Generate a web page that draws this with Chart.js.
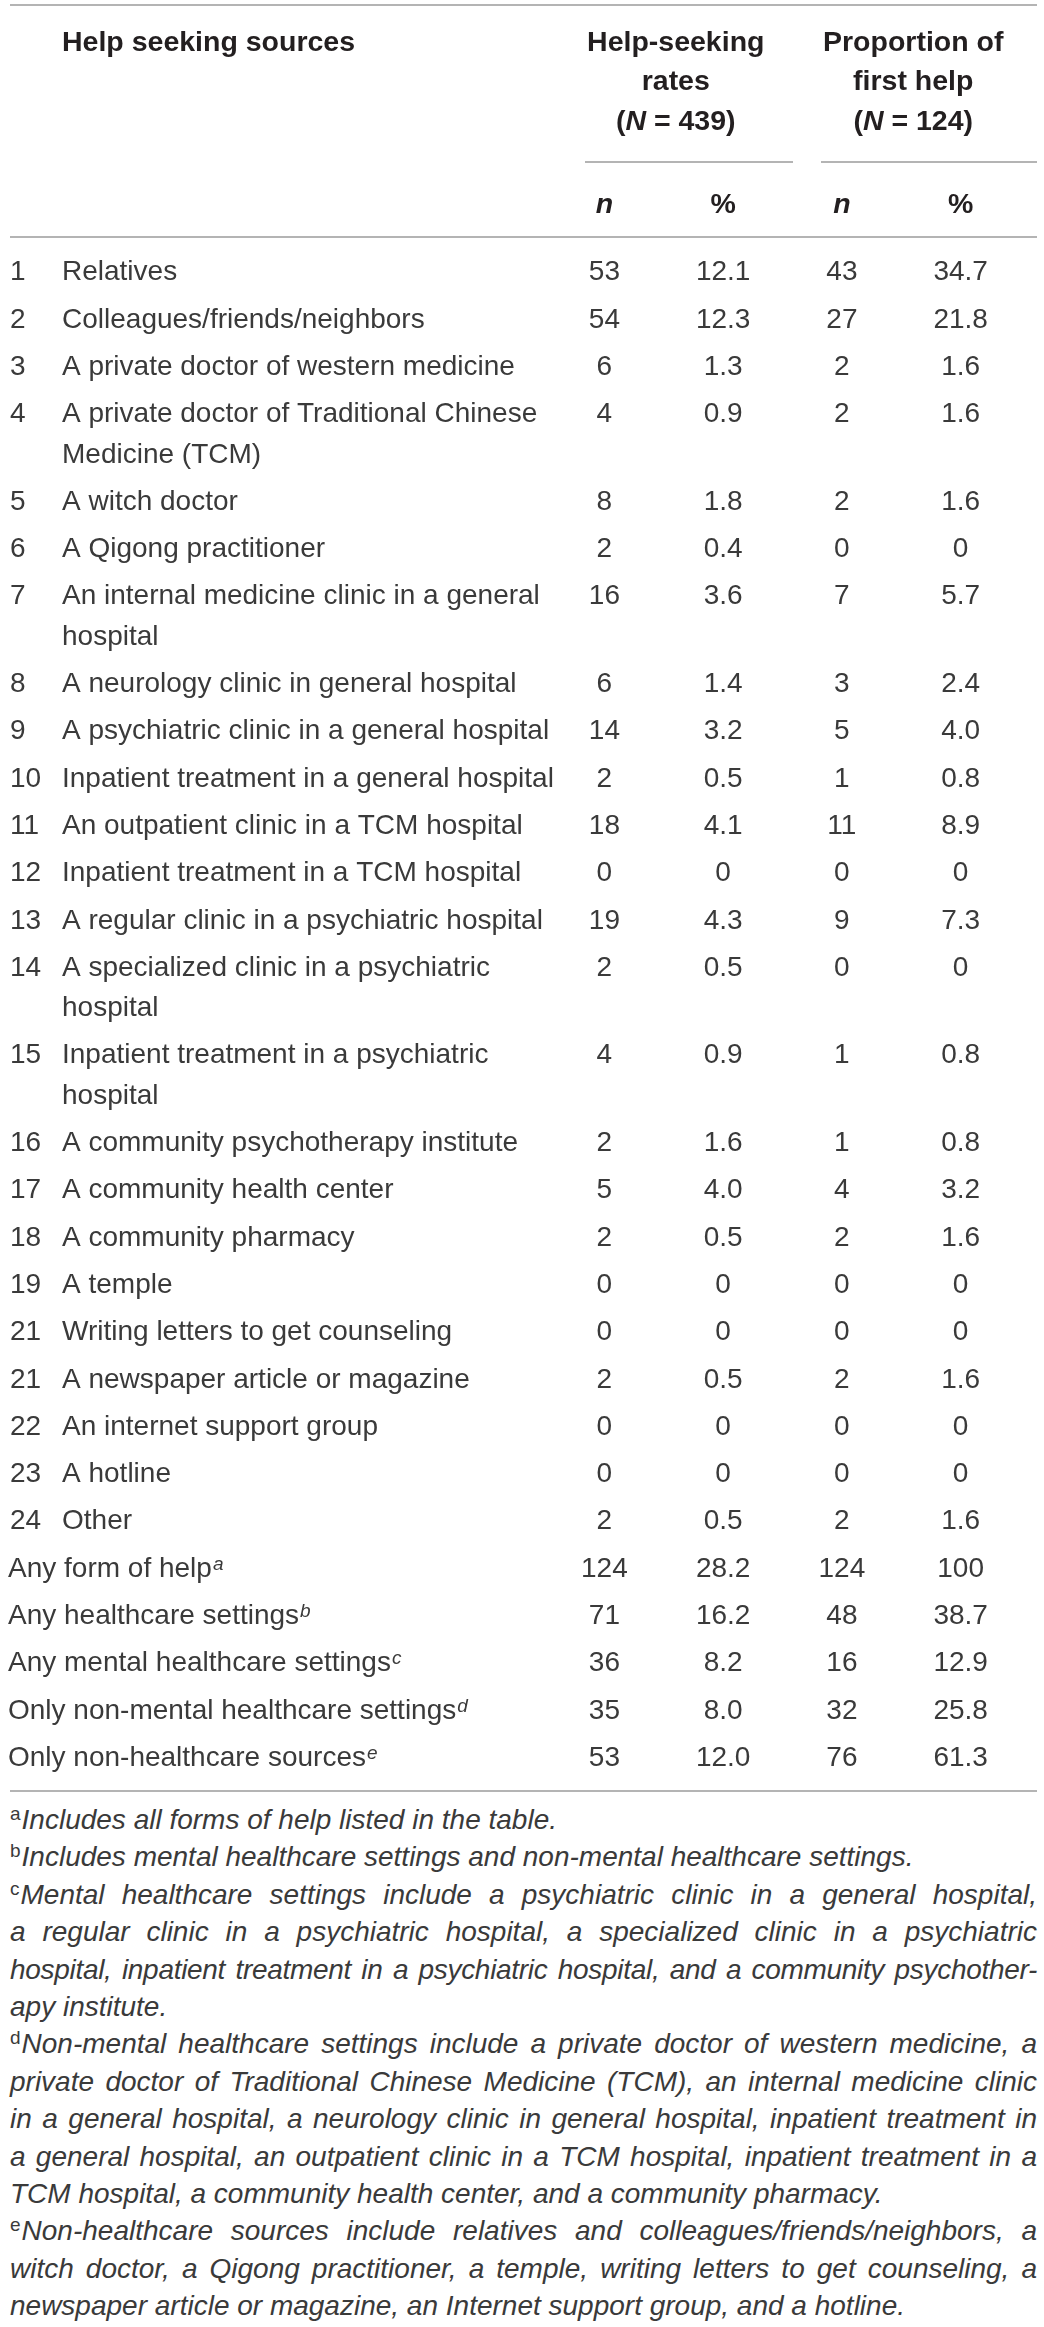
<!DOCTYPE html>
<html lang="en">
<head>
<meta charset="utf-8">
<title>Help seeking sources</title>
<script src="https://cdn.jsdelivr.net/npm/chart.js@4.4.1/dist/chart.umd.min.js"></script>
<style>
  html, body { margin: 0; padding: 0; background: #fff; overflow: hidden; }
  body { width: 1044px; }
  #tableBox { position: relative; width: 1044px; height: 1800px; }
  .notes {
    margin: 1px 0 0 10px;
    width: 1027px;
    font-family: "Liberation Sans", Arial, sans-serif;
    font-style: italic;
    font-size: 28px;
    line-height: 37.4px;
    color: #3a3a3a;
  }
  .notes div { text-align: justify; text-align-last: justify; }
  .notes div.end { text-align: left; text-align-last: left; }
  .notes div.tight { letter-spacing: -0.3px; }
  .notes sup { font-style: normal; font-size: 19px; vertical-align: 9px; line-height: 0; margin-right: 1px; }
</style>
</head>
<body>
<div id="tableBox"><canvas id="helpTable"></canvas></div>
<div class="notes">
  <div class="end"><sup>a</sup>Includes all forms of help listed in the table.</div>
  <div class="end"><sup>b</sup>Includes mental healthcare settings and non-mental healthcare settings.</div>
  <div><sup>c</sup>Mental healthcare settings include a psychiatric clinic in a general hospital,</div>
  <div>a regular clinic in a psychiatric hospital, a specialized clinic in a psychiatric</div>
  <div class="tight">hospital, inpatient treatment in a psychiatric hospital, and a community psychother-</div>
  <div class="end">apy institute.</div>
  <div><sup>d</sup>Non-mental healthcare settings include a private doctor of western medicine, a</div>
  <div>private doctor of Traditional Chinese Medicine (TCM), an internal medicine clinic</div>
  <div>in a general hospital, a neurology clinic in general hospital, inpatient treatment in</div>
  <div>a general hospital, an outpatient clinic in a TCM hospital, inpatient treatment in a</div>
  <div class="end">TCM hospital, a community health center, and a community pharmacy.</div>
  <div><sup>e</sup>Non-healthcare sources include relatives and colleagues/friends/neighbors, a</div>
  <div>witch doctor, a Qigong practitioner, a temple, writing letters to get counseling, a</div>
  <div class="end">newspaper article or magazine, an Internet support group, and a hotline.</div>
</div>
<script>
// Table data
const rowNumbers = [
    "1", "2", "3", "4", "5", "6", "7", "8", "9", "10", "11", "12", "13", "14",
    "15", "16", "17", "18", "19", "21", "21", "22", "23", "24",
    "", "", "", "", "",
];

const sourceLabels = [
    ["Relatives"],
    ["Colleagues/friends/neighbors"],
    ["A private doctor of western medicine"],
    ["A private doctor of Traditional Chinese", "Medicine (TCM)"],
    ["A witch doctor"],
    ["A Qigong practitioner"],
    ["An internal medicine clinic in a general", "hospital"],
    ["A neurology clinic in general hospital"],
    ["A psychiatric clinic in a general hospital"],
    ["Inpatient treatment in a general hospital"],
    ["An outpatient clinic in a TCM hospital"],
    ["Inpatient treatment in a TCM hospital"],
    ["A regular clinic in a psychiatric hospital"],
    ["A specialized clinic in a psychiatric", "hospital"],
    ["Inpatient treatment in a psychiatric", "hospital"],
    ["A community psychotherapy institute"],
    ["A community health center"],
    ["A community pharmacy"],
    ["A temple"],
    ["Writing letters to get counseling"],
    ["A newspaper article or magazine"],
    ["An internet support group"],
    ["A hotline"],
    ["Other"],
    ["Any form of help"],
    ["Any healthcare settings"],
    ["Any mental healthcare settings"],
    ["Only non-mental healthcare settings"],
    ["Only non-healthcare sources"],
];

const noteMarks = [
    "", "", "", "", "", "", "", "", "", "", "", "", "", "", "", "", "", "", "", "", "", "", "", "",
    "a", "b", "c", "d", "e",
];

const helpN = [53, 54, 6, 4, 8, 2, 16, 6, 14, 2, 18, 0, 19, 2, 4, 2, 5, 2, 0, 0, 2, 0, 0, 2, 124, 71, 36, 35, 53];
const helpPct = [12.1, 12.3, 1.3, 0.9, 1.8, 0.4, 3.6, 1.4, 3.2, 0.5, 4.1, 0, 4.3, 0.5, 0.9, 1.6, 4.0, 0.5, 0, 0, 0.5, 0, 0, 0.5, 28.2, 16.2, 8.2, 8.0, 12.0];
const firstN = [43, 27, 2, 2, 2, 0, 7, 3, 5, 1, 11, 0, 9, 0, 1, 1, 4, 2, 0, 0, 2, 0, 0, 2, 124, 48, 16, 32, 76];
const firstPct = [34.7, 21.8, 1.6, 1.6, 1.6, 0, 5.7, 2.4, 4.0, 0.8, 8.9, 0, 7.3, 0, 0.8, 0.8, 3.2, 1.6, 0, 0, 1.6, 0, 0, 1.6, 100, 38.7, 12.9, 25.8, 61.3];

const columnKeys = ["*n*", "%", "*n*", "%"];
const groupTitles = [
    ["Help-seeking", "rates", "(*N* = 439)"],
    ["Proportion of", "first help", "(*N* = 124)"],
];
const firstHeader = "Help seeking sources";

// Layout
const FONT = '"Liberation Sans", Arial, sans-serif';
const BODY_SIZE = 28;
const HEAD_SIZE = 28.5;
const textColor = "#3a3a3a";
const headColor = "#231f20";
const ruleColor = "#9b9b9b";
const LINE_STEP = 0.85; // extra height of a wrapped line, in row units
const layout = {
    ruleLeft: 10,
    ruleRight: 1037,
    topRule: 5,
    spanRule: 162,
    headRule: 237,
    bodyRuleGap: 9,
    spans: [[585, 793], [821, 1037]],
    titleY: [43, 82, 122],
    keyY: 205,
    numX: 10,
    labelX: 62,
    totalX: 8,
    groupShift: 12,
};

// Row positions on the y scale (wrapped labels take more room)
const rowPos = [];
let rowAcc = 0;
sourceLabels.forEach((lines) => {
    rowPos.push(rowAcc + 0.5);
    rowAcc += 1 + (lines.length - 1) * LINE_STEP;
});
const totalUnits = rowAcc;

const formatCell = (v, col) => {
    if (col % 2 === 0) return String(v);
    if (v === 0 || v === 100) return String(v);
    return v.toFixed(1);
};

// Draw text where *x* parts are italic, centred on cx
const drawRuns = (ctx, text, cx, cy, size, weight) => {
    const runs = text.split("*").map((t, k) => ({ t, it: k % 2 === 1 })).filter((r) => r.t);
    const fontFor = (r) => `${r.it ? "italic " : ""}${weight} ${size}px ${FONT}`;
    let total = 0;
    runs.forEach((r) => {
        ctx.font = fontFor(r);
        r.w = ctx.measureText(r.t).width;
        total += r.w;
    });
    let x0 = cx - total / 2;
    ctx.textAlign = "left";
    runs.forEach((r) => {
        ctx.font = fontFor(r);
        ctx.fillText(r.t, x0, cy);
        x0 += r.w;
    });
};

const rule = (ctx, x1, x2, y) => {
    ctx.beginPath();
    ctx.moveTo(x1, y);
    ctx.lineTo(x2, y);
    ctx.stroke();
};

const tablePlugin = {
    id: "tableText",
    afterDatasetsDraw(chart) {
        const { ctx, scales: { x, y } } = chart;
        ctx.save();

        // rules
        ctx.strokeStyle = ruleColor;
        ctx.lineWidth = 1.6;
        rule(ctx, layout.ruleLeft, layout.ruleRight, layout.topRule);
        layout.spans.forEach(([a, b]) => rule(ctx, a, b, layout.spanRule));
        rule(ctx, layout.ruleLeft, layout.ruleRight, layout.headRule);
        rule(ctx, layout.ruleLeft, layout.ruleRight, y.bottom + layout.bodyRuleGap);

        // header
        ctx.fillStyle = headColor;
        ctx.textBaseline = "middle";
        ctx.textAlign = "left";
        ctx.font = `bold ${HEAD_SIZE}px ${FONT}`;
        ctx.fillText(firstHeader, layout.labelX, layout.titleY[0]);
        groupTitles.forEach((lines, g) => {
            const cx = (x.getPixelForValue(g * 2) + x.getPixelForValue(g * 2 + 1)) / 2 + layout.groupShift;
            lines.forEach((ln, k) => drawRuns(ctx, ln, cx, layout.titleY[k], HEAD_SIZE, "bold"));
        });
        columnKeys.forEach((key, c) => {
            drawRuns(ctx, key, x.getPixelForValue(c), layout.keyY, HEAD_SIZE, "bold");
        });

        // row labels
        ctx.fillStyle = textColor;
        sourceLabels.forEach((lines, i) => {
            const py = y.getPixelForValue(rowPos[i]);
            const isTotal = rowNumbers[i] === "";
            const lx = isTotal ? layout.totalX : layout.labelX;
            ctx.font = `${BODY_SIZE}px ${FONT}`;
            ctx.textBaseline = "middle";
            ctx.textAlign = "left";
            if (!isTotal) ctx.fillText(rowNumbers[i], layout.numX, py);
            lines.forEach((ln, k) => {
                ctx.fillText(ln, lx, y.getPixelForValue(rowPos[i] + k * LINE_STEP));
            });
            if (noteMarks[i]) {
                const w = ctx.measureText(lines[lines.length - 1]).width;
                ctx.font = `italic 19px ${FONT}`;
                ctx.textBaseline = "alphabetic";
                ctx.fillText(noteMarks[i], lx + w + 1, py + 0.5);
            }
        });

        // cell values at the dataset points
        ctx.font = `${BODY_SIZE}px ${FONT}`;
        ctx.textBaseline = "middle";
        ctx.textAlign = "center";
        chart.data.datasets.forEach((ds, d) => {
            const meta = chart.getDatasetMeta(d);
            meta.data.forEach((pt, i) => {
                ctx.fillText(formatCell(ds.data[i].v, d), pt.x, pt.y);
            });
        });

        ctx.restore();
    },
};

const columns = [helpN, helpPct, firstN, firstPct];
const columnNames = ["Help-seeking n", "Help-seeking %", "First help n", "First help %"];

new Chart(document.getElementById("helpTable"), {
    type: "scatter",
    data: {
        datasets: columns.map((vals, c) => ({
            label: columnNames[c],
            data: vals.map((v, i) => ({ x: c, y: rowPos[i], v: v })),
            pointRadius: 0,
            pointHoverRadius: 0,
            showLine: false,
        })),
    },
    options: {
        responsive: true,
        maintainAspectRatio: false,
        animation: false,
        events: [],
        layout: {
            padding: { left: 545, right: 24, top: 249, bottom: 18 },
        },
        plugins: {
            legend: { display: false },
            tooltip: { enabled: false },
        },
        scales: {
            x: { type: "linear", min: -0.5, max: 3.5, display: false },
            y: { type: "linear", min: 0, max: totalUnits, reverse: true, display: false },
        },
    },
    plugins: [tablePlugin],
});
</script>
</body>
</html>
